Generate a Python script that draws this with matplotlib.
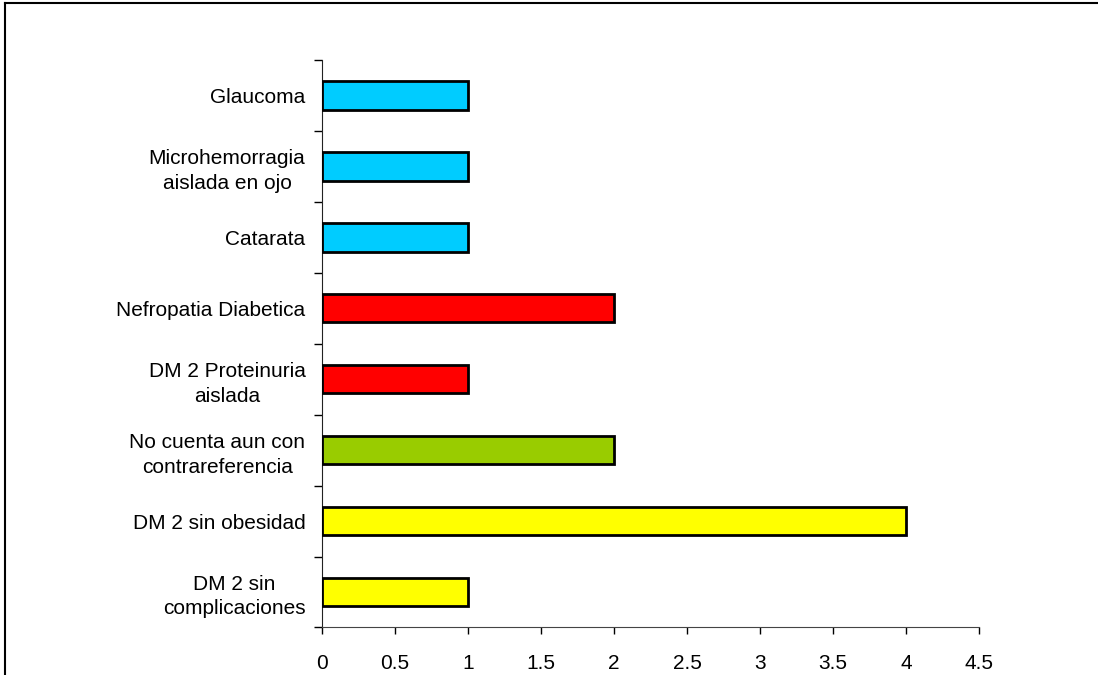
import matplotlib
matplotlib.use('Agg')
import matplotlib.pyplot as plt
from matplotlib.lines import Line2D
import numpy as np

plt.rcParams['font.family'] = ['Liberation Sans', 'DejaVu Sans']

# bottom to top
categorias = ['DM 2 sin\ncomplicaciones', 'DM 2 sin obesidad',
              'No cuenta aun con\ncontrareferencia', 'DM 2 Proteinuria\naislada',
              'Nefropatia Diabetica', 'Catarata',
              'Microhemorragia\naislada en ojo', 'Glaucoma']
valores = [1, 4, 2, 1, 2, 1, 1, 1]
colores = ['#FFFF00', '#FFFF00', '#99CC00', '#FF0000',
           '#FF0000', '#00CCFF', '#00CCFF', '#00CCFF']

fig = plt.figure(figsize=(10.98, 6.75), dpi=100)
ax = fig.add_axes([0.2933, 0.0704, 0.5983, 0.8407])

y = np.arange(len(categorias))
ax.barh(y, valores, height=0.4, color=colores, edgecolor='black', linewidth=2.0, zorder=3)

ax.set_xlim(0, 4.5)
ax.set_ylim(-0.5, len(categorias) - 0.5)
ax.set_xticks(np.arange(0, 4.51, 0.5))
ax.set_xticklabels(['0', '0.5', '1', '1.5', '2', '2.5', '3', '3.5', '4', '4.5'])
ax.set_yticks(y)
ax.set_yticklabels(categorias, multialignment='center', linespacing=1.36)
ax.set_yticks(np.arange(-0.5, len(categorias)), minor=True)

ax.tick_params(axis='x', direction='out', length=5, width=1, pad=14, labelsize=15)
ax.tick_params(axis='y', which='major', length=0, pad=12, labelsize=15)
ax.tick_params(axis='y', which='minor', direction='out', length=6, width=1)

for s in ['top', 'right']:
    ax.spines[s].set_visible(False)
ax.spines['left'].set_color('#222222')
ax.spines['bottom'].set_color('#444444')

# outer frame (left and top edges)
fig.add_artist(Line2D([0.0046, 0.0046], [0, 0.996], transform=fig.transFigure, color='black', lw=1.5))
fig.add_artist(Line2D([0.0046, 1.0], [0.996, 0.996], transform=fig.transFigure, color='black', lw=1.5))

fig.savefig('out.png', dpi=100)
